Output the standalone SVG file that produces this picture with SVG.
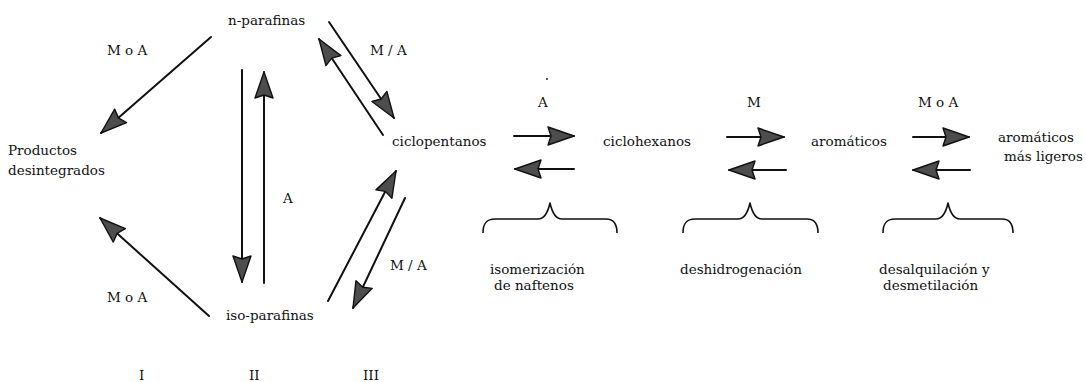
<svg xmlns="http://www.w3.org/2000/svg" width="1086" height="382" viewBox="0 0 1086 382">
  <style>
    text { font-family: "DejaVu Serif", "Liberation Serif", serif; font-size: 13.5px; fill: #111; }
    .ln { stroke: #111; stroke-width: 2; fill: none; stroke-linecap: round; }
    .brace { stroke: #111; stroke-width: 1.6; fill: none; stroke-linejoin: round; }
  </style>
  <defs>
    <marker id="head" viewBox="0 0 28 20" refX="27" refY="10" markerWidth="28" markerHeight="20" markerUnits="userSpaceOnUse" orient="auto">
      <path d="M1,1 L27,10 L1,19 L4,10 Z" fill="#4d4d4d" stroke="#111" stroke-width="1.4" stroke-linejoin="round"/>
    </marker>
  </defs>
  <rect width="1086" height="382" fill="#fff"/>

  <!-- reaction arrows -->
  <g id="connectors">
    <line class="ln" x1="211" y1="37" x2="101" y2="133" marker-end="url(#head)"/>
    <line class="ln" x1="209" y1="316" x2="100" y2="218" marker-end="url(#head)"/>
    <line class="ln" x1="242" y1="70" x2="242" y2="282" marker-end="url(#head)"/>
    <line class="ln" x1="264" y1="283" x2="264" y2="72" marker-end="url(#head)"/>
    <line class="ln" x1="329" y1="22" x2="394" y2="118" marker-end="url(#head)"/>
    <line class="ln" x1="383" y1="135" x2="319" y2="39" marker-end="url(#head)"/>
    <line class="ln" x1="328" y1="301" x2="396" y2="171" marker-end="url(#head)"/>
    <line class="ln" x1="405" y1="198" x2="353" y2="308" marker-end="url(#head)"/>
    <line class="ln" x1="514" y1="136" x2="574" y2="136" marker-end="url(#head)"/>
    <line class="ln" x1="574" y1="169" x2="515" y2="169" marker-end="url(#head)"/>
    <line class="ln" x1="727" y1="137" x2="784" y2="137" marker-end="url(#head)"/>
    <line class="ln" x1="786" y1="170" x2="729" y2="170" marker-end="url(#head)"/>
    <line class="ln" x1="913" y1="137" x2="969" y2="137" marker-end="url(#head)"/>
    <line class="ln" x1="970" y1="170" x2="913" y2="170" marker-end="url(#head)"/>
  </g>

  <!-- catalyst labels on the arrows -->
  <g id="arrow-labels">
    <text x="107" y="55">M o A</text>
    <text x="107" y="302">M o A</text>
    <text x="283" y="203">A</text>
    <text x="370" y="55">M / A</text>
    <text x="390" y="270">M / A</text>
    <circle cx="547" cy="79" r="0.9" fill="#111"/>
    <text x="538" y="107">A</text>
    <text x="747" y="107">M</text>
    <text x="918" y="107">M o A</text>
  </g>

  <g id="n-parafinas"><text x="228" y="25">n-parafinas</text></g>
  <g id="productos-desintegrados">
    <text x="8" y="155">Productos</text>
    <text x="8" y="175">desintegrados</text>
  </g>
  <g id="iso-parafinas"><text x="226" y="320">iso-parafinas</text></g>
  <g id="ciclopentanos"><text x="392" y="146">ciclopentanos</text></g>
  <g id="ciclohexanos"><text x="603" y="146">ciclohexanos</text></g>
  <g id="aromaticos"><text x="811" y="146">aromáticos</text></g>
  <g id="aromaticos-ligeros">
    <text x="998" y="142">aromáticos</text>
    <text x="1004" y="161">más ligeros</text>
  </g>

  <!-- reaction-type braces -->
  <g id="isomerizacion">
    <path class="brace" d="M483,233 C483,224 486,219 495,219 L538,219 C545,219 548,212 550,203 C552,212 555,219 562,219 L606,219 C614,219 617,224 617,233"/>
    <text x="490" y="274">isomerización</text>
    <text x="494" y="290">de naftenos</text>
  </g>
  <g id="deshidrogenacion">
    <path class="brace" d="M683,233 C683,224 686,219 695,219 L738,219 C745,219 748,212 750,203 C752,212 755,219 762,219 L807,219 C815,219 818,224 818,233"/>
    <text x="680" y="274">deshidrogenación</text>
  </g>
  <g id="desalquilacion">
    <path class="brace" d="M883,233 C883,224 886,219 895,219 L936,219 C943,219 946,212 948,203 C950,212 953,219 960,219 L1002,219 C1010,219 1013,224 1013,233"/>
    <text x="879" y="274">desalquilación y</text>
    <text x="883" y="290">desmetilación</text>
  </g>

  <!-- column numerals -->
  <g id="columnas">
    <text x="139" y="380">I</text>
    <text x="249" y="380">II</text>
    <text x="363" y="380">III</text>
  </g>
</svg>
